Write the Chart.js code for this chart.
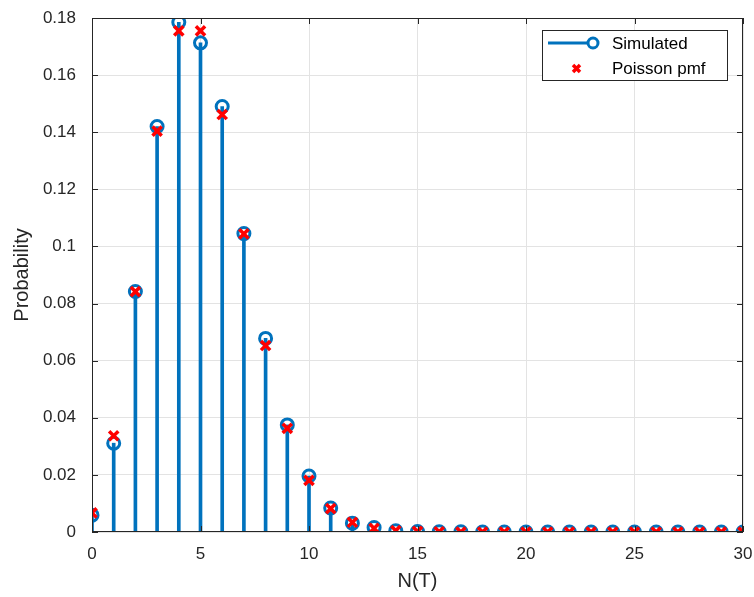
<!DOCTYPE html>
<html>
<head>
<meta charset="utf-8">
<script src="https://cdn.jsdelivr.net/npm/chart.js@4"></script>
<style>
  html, body { margin: 0; padding: 0; background: #fff; }
  #wrap { width: 754px; height: 597px; }
</style>
</head>
<body>
<div id="wrap"><canvas id="stemChart" width="754" height="597"></canvas></div>
<script>
// N(T) values
let counts = [];
for (let k = 0; k <= 30; k++) counts.push(k);

// simulated probabilities
let simulated = [
    0.0059, 0.0311, 0.0842, 0.1420, 0.1785, 0.1713, 0.1490, 0.1045,
    0.0678, 0.0375, 0.0196, 0.0084, 0.0031, 0.0016, 0.0004, 0.0002,
    0.0001, 0.0001, 0, 0, 0, 0, 0, 0, 0, 0, 0, 0, 0, 0, 0
];

// poisson pmf
let poisson = [
    0.0067, 0.0337, 0.0842, 0.1404, 0.1755, 0.1755, 0.1462, 0.1044,
    0.0653, 0.0363, 0.0181, 0.0082, 0.0034, 0.0013, 0.0005, 0.0002,
    0.0001, 0, 0, 0, 0, 0, 0, 0, 0, 0, 0, 0, 0, 0, 0
];

let xTicks = [0, 5, 10, 15, 20, 25, 30];
let yTicks = [0, 0.02, 0.04, 0.06, 0.08, 0.1, 0.12, 0.14, 0.16, 0.18];

const BLUE = "#0072BD";
const RED = "#FF0000";
const AXIS = "#262626";
const FONT = "'Liberation Sans', Arial, sans-serif";

let simPts = counts.map((k, i) => ({ x: k, y: simulated[i] }));
let poiPts = counts.map((k, i) => ({ x: k, y: poisson[i] }));

// box, inward ticks and legend like matlab
const boxPlugin = {
    id: "box",
    afterDraw(chart) {
        let c = chart.ctx, a = chart.chartArea;
        let xs = chart.scales.x, ys = chart.scales.y;
        c.save();
        c.strokeStyle = AXIS;
        c.lineWidth = 1;
        c.strokeRect(a.left + 0.5, a.top + 0.5, a.right - a.left - 1, a.bottom - a.top - 1);
        c.beginPath();
        xTicks.forEach(t => {
            let px = Math.round(xs.getPixelForValue(t)) + 0.5;
            c.moveTo(px, a.bottom); c.lineTo(px, a.bottom - 6);
            c.moveTo(px, a.top); c.lineTo(px, a.top + 6);
        });
        yTicks.forEach(t => {
            let py = Math.round(ys.getPixelForValue(t)) + 0.5;
            c.moveTo(a.left, py); c.lineTo(a.left + 6, py);
            c.moveTo(a.right, py); c.lineTo(a.right - 6, py);
        });
        c.stroke();

        // legend
        let lx = 542, ly = 30, lw = 185, lh = 50;
        c.fillStyle = "#fff";
        c.fillRect(lx, ly, lw, lh);
        c.strokeStyle = AXIS;
        c.strokeRect(lx + 0.5, ly + 0.5, lw, lh);
        c.strokeStyle = BLUE;
        c.lineWidth = 3;
        c.beginPath();
        c.moveTo(548, 43); c.lineTo(589, 43);
        c.stroke();
        c.beginPath();
        c.arc(593, 43, 5, 0, Math.PI * 2);
        c.stroke();
        c.strokeStyle = RED;
        c.lineWidth = 3.5;
        c.beginPath();
        c.moveTo(573, 65); c.lineTo(580, 72);
        c.moveTo(580, 65); c.lineTo(573, 72);
        c.stroke();
        c.fillStyle = "#000";
        c.font = "17px " + FONT;
        c.textBaseline = "middle";
        c.textAlign = "left";
        c.fillText("Simulated", 612, 44);
        c.fillText("Poisson pmf", 612, 69);
        c.restore();
    }
};

let ctx = document.getElementById("stemChart").getContext("2d");

new Chart(ctx, {
    type: "scatter",
    data: {
        datasets: [
            {
                label: "Poisson pmf",
                data: poiPts,
                pointStyle: "crossRot",
                pointRadius: 6.5,
                borderWidth: 3.5,
                borderColor: RED,
                order: 0
            },
            {
                label: "Simulated",
                data: simPts,
                pointStyle: "circle",
                pointRadius: 6,
                borderWidth: 3,
                borderColor: BLUE,
                backgroundColor: "rgba(0,0,0,0)",
                order: 1
            },
            {
                type: "bar",
                label: "stems",
                data: simPts,
                backgroundColor: BLUE,
                barThickness: 3,
                order: 2
            }
        ]
    },
    options: {
        responsive: false,
        animation: false,
        layout: { padding: { left: 0, right: 11, top: 18, bottom: 0 } },
        plugins: {
            legend: { display: false },
            tooltip: { enabled: false }
        },
        scales: {
            x: {
                type: "linear",
                min: 0,
                max: 30,
                offset: false,
                afterFit: s => { s.height = 65; s.paddingLeft = 0; s.paddingRight = 0; },
                afterBuildTicks: s => { s.ticks = xTicks.map(v => ({ value: v })); },
                grid: { color: "#e3e3e3", drawTicks: false, offset: false },
                border: { display: false },
                ticks: { color: AXIS, padding: 12, font: { family: FONT, size: 17 } },
                title: {
                    display: true, text: "N(T)", color: AXIS,
                    padding: { top: 2 }, font: { family: FONT, size: 20 }
                }
            },
            y: {
                min: 0,
                max: 0.18,
                afterFit: s => { s.width = 92; s.paddingTop = 0; s.paddingBottom = 0; },
                afterBuildTicks: s => { s.ticks = yTicks.map(v => ({ value: v })); },
                grid: { color: "#e3e3e3", drawTicks: false },
                border: { display: false },
                ticks: {
                    color: AXIS, padding: 16,
                    font: { family: FONT, size: 17 },
                    callback: v => String(+v.toFixed(2))
                },
                title: {
                    display: true, text: "Probability", color: AXIS,
                    padding: { top: 10, bottom: 0 }, font: { family: FONT, size: 20 }
                }
            }
        }
    },
    plugins: [boxPlugin]
});
</script>
</body>
</html>
